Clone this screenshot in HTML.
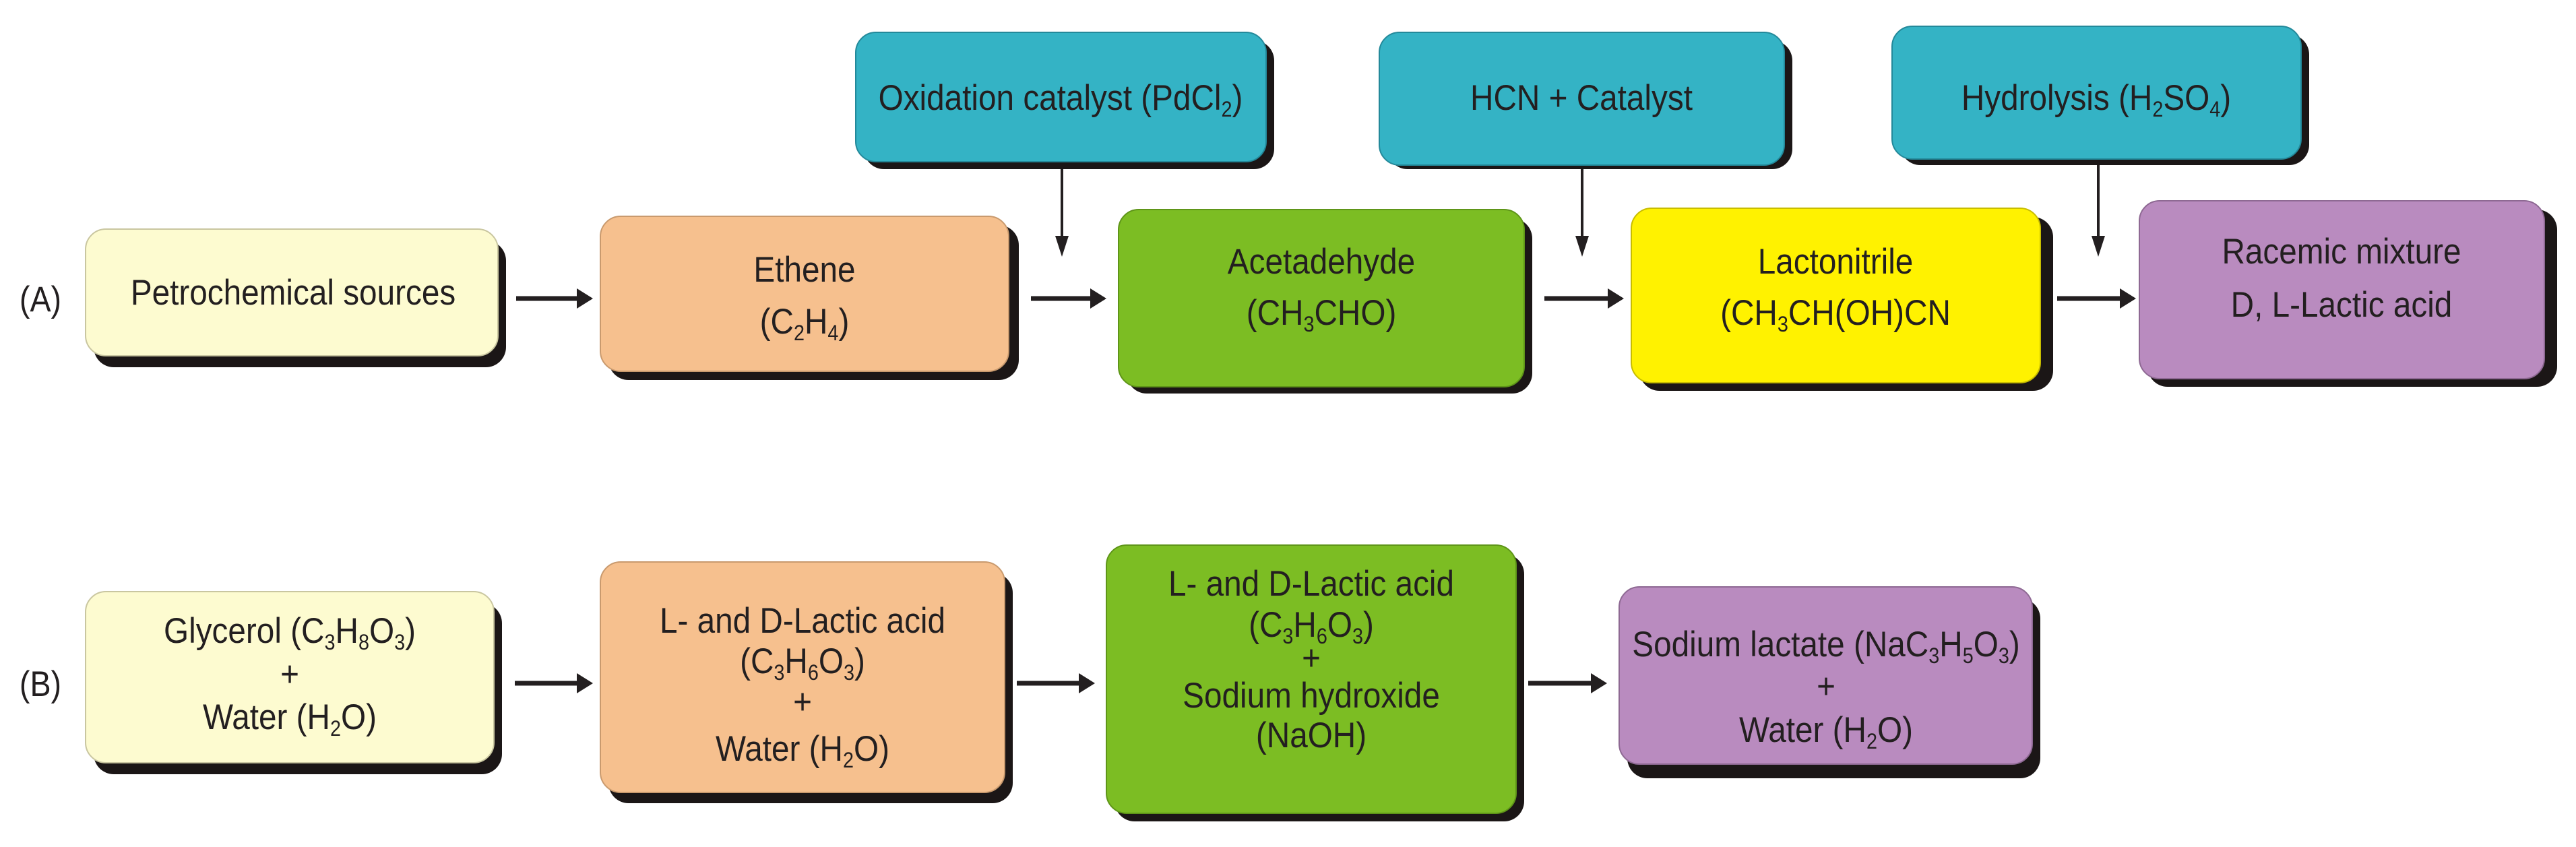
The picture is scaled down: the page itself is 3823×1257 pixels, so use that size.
<!DOCTYPE html>
<html><head><meta charset="utf-8"><style>
html,body{margin:0;padding:0;background:#fff}
svg{display:block}
text{font-family:"Liberation Sans",Arial,sans-serif;font-size:53px;fill:#231f20}
</style></head><body>
<svg width="3823" height="1257" viewBox="0 0 3823 1257" xmlns="http://www.w3.org/2000/svg">
<g stroke="none">
<rect x="139" y="357" width="612" height="188" rx="30" fill="#1b1616"/>
<rect x="127" y="340" width="612" height="188" rx="30" fill="#fdfbd0" stroke="#c9c6a0" stroke-width="2"/>
<rect x="903" y="334" width="609" height="230" rx="30" fill="#1b1616"/>
<rect x="891" y="321" width="606" height="230" rx="30" fill="#f6c08e" stroke="#c99a6e" stroke-width="2"/>
<rect x="1672" y="324" width="602" height="260" rx="30" fill="#1b1616"/>
<rect x="1660" y="311" width="602" height="263" rx="30" fill="#7cbd23" stroke="#5e9518" stroke-width="2"/>
<rect x="2433" y="322" width="614" height="258" rx="30" fill="#1b1616"/>
<rect x="2421" y="309" width="607" height="259" rx="30" fill="#fff200" stroke="#c8bd00" stroke-width="2"/>
<rect x="3187" y="311" width="608" height="263" rx="30" fill="#1b1616"/>
<rect x="3175" y="298" width="601" height="264" rx="30" fill="#b98bbf" stroke="#8e6993" stroke-width="2"/>
<rect x="1282" y="60" width="609" height="191" rx="30" fill="#1b1616"/>
<rect x="1270" y="48" width="609" height="192" rx="30" fill="#34b3c5" stroke="#23899a" stroke-width="2"/>
<rect x="2059" y="60" width="601" height="191" rx="30" fill="#1b1616"/>
<rect x="2047" y="48" width="601" height="197" rx="30" fill="#34b3c5" stroke="#23899a" stroke-width="2"/>
<rect x="2820" y="51" width="607" height="194" rx="30" fill="#1b1616"/>
<rect x="2808" y="39" width="607" height="197" rx="30" fill="#34b3c5" stroke="#23899a" stroke-width="2"/>
<rect x="139" y="895" width="606" height="254" rx="30" fill="#1b1616"/>
<rect x="127" y="878" width="606" height="254" rx="30" fill="#fdfbd0" stroke="#c9c6a0" stroke-width="2"/>
<rect x="903" y="850" width="600" height="342" rx="30" fill="#1b1616"/>
<rect x="891" y="834" width="600" height="342" rx="30" fill="#f6c08e" stroke="#c99a6e" stroke-width="2"/>
<rect x="1654" y="822" width="608" height="397" rx="30" fill="#1b1616"/>
<rect x="1642" y="809" width="608" height="398" rx="30" fill="#7cbd23" stroke="#5e9518" stroke-width="2"/>
<rect x="2415" y="888" width="613" height="267" rx="30" fill="#1b1616"/>
<rect x="2403" y="871" width="613" height="263" rx="30" fill="#b98bbf" stroke="#8e6993" stroke-width="2"/>
</g>
<g stroke="#231f20" stroke-width="7" fill="#231f20">
<line x1="766" y1="443" x2="860" y2="443"/><polygon stroke="none" points="856,428 880,443 856,458"/>
<line x1="1530" y1="443" x2="1622" y2="443"/><polygon stroke="none" points="1618,428 1642,443 1618,458"/>
<line x1="2292" y1="443" x2="2390" y2="443"/><polygon stroke="none" points="2386,428 2410,443 2386,458"/>
<line x1="3053" y1="443" x2="3150" y2="443"/><polygon stroke="none" points="3146,428 3170,443 3146,458"/>
<line x1="764" y1="1014" x2="860" y2="1014"/><polygon stroke="none" points="856,999 880,1014 856,1029"/>
<line x1="1509" y1="1014" x2="1605" y2="1014"/><polygon stroke="none" points="1601,999 1625,1014 1601,1029"/>
<line x1="2268" y1="1014" x2="2365" y2="1014"/><polygon stroke="none" points="2361,999 2385,1014 2361,1029"/>
</g>
<g stroke="#231f20" stroke-width="4" fill="#231f20">
<line x1="1576" y1="251" x2="1576" y2="360"/><polygon stroke="none" points="1566,350 1586,350 1576,381"/>
<line x1="2348" y1="251" x2="2348" y2="360"/><polygon stroke="none" points="2338,350 2358,350 2348,381"/>
<line x1="3114" y1="245" x2="3114" y2="360"/><polygon stroke="none" points="3104,350 3124,350 3114,381"/>
</g>
<g text-anchor="middle">
<text transform="translate(60,462) scale(0.88,1)">(A)</text>
<text transform="translate(60,1033) scale(0.88,1)">(B)</text>

<text transform="translate(435,452) scale(0.9,1)">Petrochemical sources</text>
<text transform="translate(1194,418) scale(0.9,1)">Ethene</text>
<text transform="translate(1194,495) scale(0.9,1)">(C<tspan font-size="32" dy="10">2</tspan><tspan dy="-10">H</tspan><tspan font-size="32" dy="10">4</tspan><tspan dy="-10">)</tspan></text>
<text transform="translate(1961,406) scale(0.9,1)">Acetadehyde</text>
<text transform="translate(1961,482) scale(0.9,1)">(CH<tspan font-size="32" dy="10">3</tspan><tspan dy="-10">CHO)</tspan></text>
<text transform="translate(2724,406) scale(0.9,1)">Lactonitrile</text>
<text transform="translate(2724,482) scale(0.9,1)">(CH<tspan font-size="32" dy="10">3</tspan><tspan dy="-10">CH(OH)CN</tspan></text>
<text transform="translate(3475,391) scale(0.9,1)">Racemic mixture</text>
<text transform="translate(3475,470) scale(0.9,1)">D, L-Lactic acid</text>

<text transform="translate(1574,163) scale(0.9,1)">Oxidation catalyst (PdCl<tspan font-size="32" dy="10">2</tspan><tspan dy="-10">)</tspan></text>
<text transform="translate(2347,163) scale(0.9,1)">HCN + Catalyst</text>
<text transform="translate(3111,163) scale(0.9,1)">Hydrolysis (H<tspan font-size="32" dy="10">2</tspan><tspan dy="-10">SO</tspan><tspan font-size="32" dy="10">4</tspan><tspan dy="-10">)</tspan></text>

<text transform="translate(430,954) scale(0.9,1)">Glycerol (C<tspan font-size="32" dy="10">3</tspan><tspan dy="-10">H</tspan><tspan font-size="32" dy="10">8</tspan><tspan dy="-10">O</tspan><tspan font-size="32" dy="10">3</tspan><tspan dy="-10">)</tspan></text>
<text transform="translate(430,1018) scale(0.9,1)">+</text>
<text transform="translate(430,1082) scale(0.9,1)">Water (H<tspan font-size="32" dy="10">2</tspan><tspan dy="-10">O)</tspan></text>

<text transform="translate(1191,939) scale(0.9,1)">L- and D-Lactic acid</text>
<text transform="translate(1191,999) scale(0.9,1)">(C<tspan font-size="32" dy="10">3</tspan><tspan dy="-10">H</tspan><tspan font-size="32" dy="10">6</tspan><tspan dy="-10">O</tspan><tspan font-size="32" dy="10">3</tspan><tspan dy="-10">)</tspan></text>
<text transform="translate(1191,1059) scale(0.9,1)">+</text>
<text transform="translate(1191,1129) scale(0.9,1)">Water (H<tspan font-size="32" dy="10">2</tspan><tspan dy="-10">O)</tspan></text>

<text transform="translate(1946,884) scale(0.9,1)">L- and D-Lactic acid</text>
<text transform="translate(1946,945) scale(0.9,1)">(C<tspan font-size="32" dy="10">3</tspan><tspan dy="-10">H</tspan><tspan font-size="32" dy="10">6</tspan><tspan dy="-10">O</tspan><tspan font-size="32" dy="10">3</tspan><tspan dy="-10">)</tspan></text>
<text transform="translate(1946,994) scale(0.9,1)">+</text>
<text transform="translate(1946,1050) scale(0.9,1)">Sodium hydroxide</text>
<text transform="translate(1946,1109) scale(0.9,1)">(NaOH)</text>

<text transform="translate(2710,974) scale(0.9,1)">Sodium lactate (NaC<tspan font-size="32" dy="10">3</tspan><tspan dy="-10">H</tspan><tspan font-size="32" dy="10">5</tspan><tspan dy="-10">O</tspan><tspan font-size="32" dy="10">3</tspan><tspan dy="-10">)</tspan></text>
<text transform="translate(2710,1036) scale(0.9,1)">+</text>
<text transform="translate(2710,1101) scale(0.9,1)">Water (H<tspan font-size="32" dy="10">2</tspan><tspan dy="-10">O)</tspan></text>
</g>
</svg>
</body></html>
